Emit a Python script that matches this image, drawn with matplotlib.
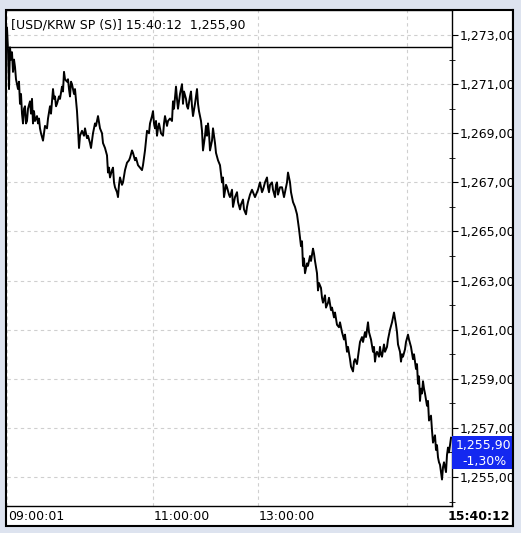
import numpy as np
import matplotlib.pyplot as plt
from matplotlib.patches import Rectangle
from matplotlib.ticker import FuncFormatter

# USD/KRW intraday: (bar position, price)
samples = [
    (7, 1273.3), (8, 1272.4), (9, 1270.8), (10, 1272.5), (11, 1272.0), (12, 1272.3), (13, 1271.5), (14, 1272.0), (15, 1271.7), (16, 1271.2),
    (17, 1271.0), (18, 1270.8), (19, 1271.1), (20, 1270.2), (21, 1270.6), (22, 1269.8), (23, 1269.4), (24, 1270.0), (25, 1270.1), (26, 1269.4),
    (27, 1269.5), (28, 1270.0), (30, 1270.3), (31, 1269.8), (32, 1270.4), (33, 1269.4), (34, 1269.9), (35, 1269.5), (37, 1269.7), (38, 1269.4),
    (39, 1269.6), (40, 1269.2), (41, 1269.0), (43, 1268.7), (44, 1269.0), (45, 1269.3), (47, 1269.2), (48, 1269.6), (50, 1270.1), (51, 1269.8),
    (53, 1270.8), (54, 1270.4), (55, 1270.5), (56, 1270.1), (57, 1270.2), (59, 1270.5), (60, 1270.4), (62, 1270.9), (63, 1270.7), (64, 1271.5),
    (65, 1271.2), (67, 1271.1), (68, 1271.2), (69, 1270.8), (70, 1270.5), (71, 1271.1), (72, 1271.0), (74, 1270.6), (75, 1270.8), (77, 1269.9),
    (78, 1269.2), (79, 1268.4), (80, 1268.9), (82, 1269.1), (84, 1268.9), (85, 1269.2), (87, 1268.8), (88, 1268.9), (90, 1268.6), (91, 1268.4),
    (93, 1269.0), (95, 1269.4), (96, 1269.3), (98, 1269.7), (100, 1269.2), (102, 1269.0), (103, 1268.6), (105, 1268.4), (107, 1268.1), (108, 1267.4),
    (109, 1267.6), (110, 1267.2), (112, 1267.5), (113, 1267.6), (114, 1267.0), (115, 1266.8), (117, 1266.6), (118, 1266.4), (119, 1266.9), (120, 1267.2),
    (122, 1266.9), (123, 1267.0), (125, 1267.5), (127, 1267.8), (129, 1267.9), (130, 1268.0), (132, 1268.3), (133, 1268.2), (135, 1267.9), (136, 1268.0),
    (138, 1267.7), (140, 1267.6), (142, 1267.5), (143, 1267.7), (145, 1268.3), (147, 1269.1), (149, 1269.0), (150, 1269.4), (152, 1269.7), (153, 1269.9),
    (154, 1269.4), (155, 1269.2), (156, 1269.5), (157, 1268.9), (158, 1269.2), (159, 1269.4), (161, 1269.0), (163, 1268.9), (164, 1269.4), (165, 1269.7),
    (167, 1269.3), (168, 1269.5), (170, 1269.6), (172, 1269.5), (173, 1270.3), (174, 1270.0), (176, 1270.9), (177, 1270.4), (178, 1270.0), (180, 1270.6),
    (182, 1271.0), (183, 1270.2), (184, 1270.7), (186, 1270.4), (187, 1270.1), (188, 1270.0), (190, 1270.5), (191, 1270.7), (192, 1270.1), (193, 1269.7),
    (195, 1270.2), (197, 1270.8), (198, 1270.2), (199, 1269.9), (201, 1269.5), (202, 1269.1), (203, 1268.3), (205, 1268.9), (206, 1269.3), (207, 1268.9),
    (208, 1269.4), (209, 1269.0), (210, 1268.3), (212, 1268.7), (213, 1269.2), (215, 1268.6), (216, 1268.2), (218, 1267.9), (220, 1267.7), (222, 1267.0),
    (223, 1267.2), (224, 1266.4), (226, 1266.9), (227, 1266.8), (229, 1266.5), (230, 1266.4), (232, 1266.7), (233, 1266.0), (234, 1266.2), (235, 1266.4),
    (237, 1266.6), (238, 1266.2), (240, 1265.9), (241, 1266.1), (243, 1266.3), (244, 1265.9), (246, 1265.7), (247, 1266.0), (248, 1266.2), (250, 1266.5),
    (252, 1266.7), (253, 1266.6), (255, 1266.4), (256, 1266.5), (258, 1266.7), (260, 1267.0), (262, 1266.6), (263, 1266.7), (265, 1267.0), (267, 1267.2),
    (268, 1266.8), (269, 1266.6), (270, 1266.9), (272, 1267.0), (273, 1266.7), (275, 1266.4), (276, 1266.9), (277, 1267.0), (278, 1266.5), (280, 1266.8),
    (282, 1266.8), (284, 1266.4), (285, 1266.6), (287, 1267.0), (288, 1267.4), (290, 1267.0), (291, 1266.6), (293, 1266.2), (295, 1266.0), (297, 1265.7),
    (299, 1265.1), (301, 1264.4), (302, 1264.6), (303, 1263.6), (304, 1263.9), (305, 1263.3), (307, 1263.7), (308, 1263.6), (310, 1264.0), (311, 1263.8),
    (313, 1264.3), (314, 1264.1), (315, 1263.8), (317, 1263.3), (318, 1262.6), (319, 1262.9), (321, 1262.7), (322, 1262.3), (323, 1262.1), (325, 1262.4),
    (326, 1261.9), (328, 1262.1), (329, 1262.3), (331, 1261.8), (332, 1261.9), (334, 1261.5), (335, 1261.7), (337, 1261.2), (339, 1261.1), (340, 1261.3),
    (342, 1260.9), (344, 1260.6), (345, 1260.8), (347, 1260.1), (348, 1260.3), (350, 1259.8), (351, 1259.5), (353, 1259.3), (354, 1259.7), (355, 1259.8),
    (357, 1259.6), (358, 1259.9), (360, 1260.5), (362, 1260.7), (363, 1260.5), (365, 1260.9), (366, 1260.7), (368, 1261.3), (369, 1260.9), (371, 1260.6),
    (373, 1260.1), (374, 1260.3), (375, 1259.7), (376, 1260.0), (377, 1260.1), (379, 1259.9), (380, 1260.3), (381, 1260.0), (382, 1259.9), (384, 1260.4),
    (385, 1260.1), (387, 1260.3), (388, 1260.6), (390, 1261.0), (392, 1261.3), (393, 1261.5), (394, 1261.7), (396, 1261.2), (397, 1260.9), (398, 1260.4),
    (400, 1260.1), (401, 1259.7), (402, 1260.0), (403, 1259.9), (405, 1260.2), (406, 1260.5), (408, 1260.8), (409, 1260.6), (411, 1260.3), (413, 1259.8),
    (414, 1260.0), (416, 1259.4), (417, 1259.6), (418, 1258.8), (419, 1259.1), (420, 1258.1), (421, 1258.6), (422, 1258.4), (423, 1258.9), (424, 1258.6),
    (425, 1258.4), (427, 1257.9), (428, 1258.1), (429, 1257.3), (431, 1257.5), (432, 1256.9), (433, 1256.4), (435, 1256.7), (436, 1256.1), (437, 1256.3),
    (438, 1255.8), (439, 1255.6), (440, 1255.5), (441, 1255.2), (442, 1254.9), (443, 1255.4), (444, 1255.6), (446, 1255.2), (447, 1255.9), (448, 1256.2),
    (449, 1256.0), (451, 1256.6),
]
bar = [b for b, _ in samples]
price = [p for _, p in samples]

tick_pos = [7, 153, 258, 407]
tick_lab = ['09:00:01', '11:00:00', '13:00:00', '']
price_ticks = [1255, 1257, 1259, 1261, 1263, 1265, 1267, 1269, 1271, 1273]
header_level = 1272.5

W, H = 521, 533
bg = '#dde3ef'

def fx(x):
    return x / W

def fy(y):
    return 1 - y / H

fig = plt.figure(figsize=(W / 100, H / 100), dpi=100, facecolor=bg)

# white panel with black frame
fig.add_artist(Rectangle((fx(6), fy(526)), fx(513) - fx(6), fy(10) - fy(526),
                         transform=fig.transFigure, facecolor='white',
                         edgecolor='black', lw=1.5, zorder=-1))

ax = fig.add_axes([fx(7), fy(506), fx(452) - fx(7), fy(10) - fy(506)])
ax.plot(bar, price, color='black', lw=1.4)
ax.axhline(header_level, color='black', lw=1)

ax.set_xlim(7, 452)
ax.set_ylim(1253.82, 1274.02)

ax.set_xticks(tick_pos)
ax.set_xticklabels([])
ax.tick_params(axis='x', length=0)
for p, lab in zip(tick_pos, tick_lab):
    fig.text(fx(p + 1), fy(516), lab, ha='left', va='center', fontsize=9)

ax.yaxis.tick_right()
ax.set_yticks(price_ticks)
ax.set_yticks(np.arange(1254, 1275, 2), minor=True)
ax.yaxis.set_major_formatter(FuncFormatter(lambda v, p: f'{v:,.2f}'.replace('.', ',')))
ax.tick_params(axis='y', which='major', length=4, direction='out', labelsize=9, pad=1.5)
ax.tick_params(axis='y', which='minor', length=5, direction='inout')

ax.grid(True, color='#cfcfcf', ls=(0, (3, 3)), lw=0.8)
ax.spines['left'].set_visible(False)
for s in ['top', 'right', 'bottom']:
    ax.spines[s].set_linewidth(1)

ax.text(0.008, 0.983, '[USD/KRW SP (S)] 15:40:12  1,255,90', transform=ax.transAxes,
        ha='left', va='top', fontsize=9)

# last price box
fig.add_artist(Rectangle((fx(452), fy(469)), fx(513) - fx(452), fy(436) - fy(469),
                         transform=fig.transFigure, facecolor='#1428f0', lw=0, zorder=3))
fig.text(fx(456), fy(446), '1,255,90', color='white', fontsize=9, va='center', zorder=4)
fig.text(fx(462), fy(461), '-1,30%', color='white', fontsize=9, va='center', zorder=4)

fig.text(fx(510), fy(516), '15:40:12', fontsize=9, fontweight='bold',
         ha='right', va='center')

# clip right edge like the window border
fig.add_artist(Rectangle((fx(513.5), 0), 1 - fx(513.5), 1, transform=fig.transFigure,
                         facecolor=bg, lw=0, zorder=5))
fig.add_artist(plt.Line2D([fx(513), fx(513)], [fy(526), fy(10)], transform=fig.transFigure,
                          color='black', lw=1.5, zorder=6))

fig.savefig('out.png', dpi=100, facecolor=bg)
